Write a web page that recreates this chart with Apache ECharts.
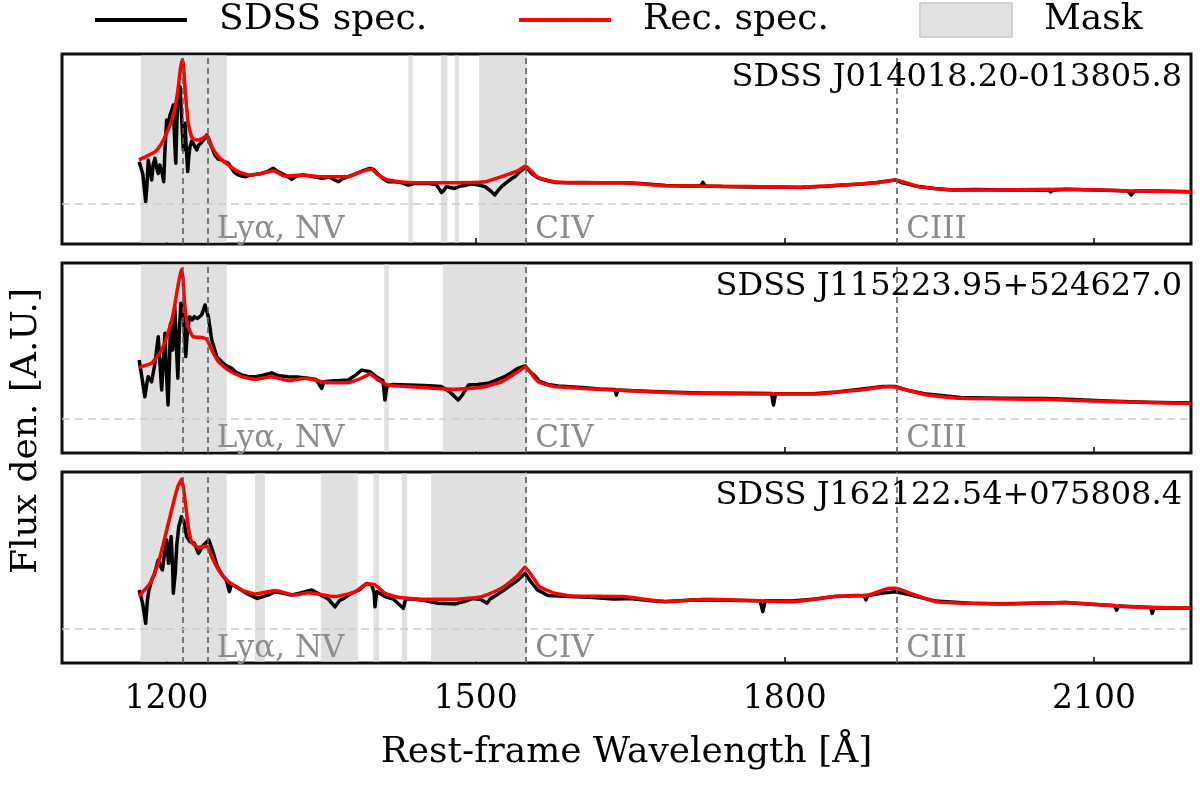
<!DOCTYPE html>
<html><head><meta charset="utf-8">
<style>html,body{margin:0;padding:0;background:#fff}#chart{width:1200px;height:786px}</style>
<script src="https://cdn.jsdelivr.net/npm/echarts@6.0.0/dist/echarts.min.js"></script>
</head><body><div id="chart"></div>
<script>
// ---------- data ----------
const xTicks = [1200, 1500, 1800, 2100];
const lineWave = [1216, 1240, 1549, 1909];
const lineLabelWave = [1240, 1549, 1909];
const lineLabels = ['Lyα, NV', 'CIV', 'CIII'];
const panelNames = ['SDSS J014018.20-013805.8', 'SDSS J115223.95+524627.0', 'SDSS J162122.54+075808.4'];
const yLimits = [[-1.333, 5.0], [-1.133, 5.2], [-1.133, 5.233]];

const p1MaskStart = [1175, 1434.8, 1466.2, 1479.8, 1503.4];
const p1MaskEnd   = [1258.4, 1439.0, 1472.6, 1483.7, 1549.7];
const p2MaskStart = [1175, 1411.2, 1468.2];
const p2MaskEnd   = [1258.4, 1415.7, 1549.7];
const p3MaskStart = [1175, 1285.9, 1349.7, 1400.8, 1428.3, 1456.8];
const p3MaskEnd   = [1258.4, 1295.6, 1385.6, 1406.3, 1433.5, 1549.7];

const p1SdssWave = [1173.5,1175,1177,1179.8,1181,1182.3,1184,1185.6,1187,1188.8,1190.5,1192,1193.5,1194.7,1196,1197.3,1198.5,1200.2,1201.8,1203.4,1205,1206.6,1207.8,1209,1210,1210.9,1212,1213.1,1214.5,1216.3,1217.2,1218,1219.3,1220.6,1221.7,1222.8,1224.5,1226,1227.7,1229.3,1231,1232.5,1234,1235.7,1237.5,1239,1240.5,1242.2,1244.5,1247,1250,1253.5,1256.5,1260,1263,1266,1269.7,1273,1276.1,1280,1285,1292,1298,1303.6,1307,1311.7,1316,1321.4,1326,1332.8,1340,1345,1350.6,1358,1366.7,1371,1376.4,1383,1390,1397.4,1401,1405,1410,1415.1,1420,1427,1434.5,1440,1447.4,1455,1462,1466.9,1469,1471.7,1475,1479.8,1485,1490,1496,1502,1508.9,1514,1518.6,1521,1525.1,1530,1535,1538,1543,1548,1551,1555,1560,1567,1576.8,1590,1603,1620,1643.8,1660,1684.5,1700,1718,1720.5,1723,1740,1766,1790,1815.5,1817,1819,1840,1856,1875,1888.9,1900,1907.6,1915,1929.7,1945,1962.4,1985,2011.3,2040,2056,2058,2060,2072.5,2100,2120,2133,2136,2139,2160,2194];
const p1SdssFlux = [1.41,1.35,1.0,0.08,0.6,1.47,1.1,0.8,1.3,1.52,1.2,1.02,1.3,1.36,1.0,0.74,1.8,2.8,2.6,2.97,3.1,3.3,2.2,1.36,2.6,3.47,3.7,3.91,3.0,1.8,2.4,2.69,1.8,1.08,1.6,1.91,2.1,2.02,1.9,1.8,1.95,1.97,2.05,2.13,2.2,2.3,2.25,2.02,1.85,1.63,1.5,1.47,1.4,1.36,1.2,1.05,0.97,0.93,0.91,0.95,0.98,1.02,1.08,1.19,1.1,1.02,0.95,0.82,0.93,0.97,0.92,0.9,0.86,0.9,0.74,0.85,0.91,1.0,1.1,1.19,1.15,1.0,0.85,0.74,0.75,0.72,0.63,0.68,0.69,0.68,0.64,0.38,0.45,0.58,0.55,0.52,0.6,0.62,0.67,0.64,0.58,0.45,0.3,0.42,0.58,0.72,0.85,0.91,1.08,1.22,1.15,1.0,0.88,0.8,0.72,0.71,0.72,0.71,0.71,0.68,0.62,0.6,0.6,0.72,0.6,0.58,0.57,0.57,0.55,0.5,0.56,0.59,0.63,0.67,0.72,0.77,0.8,0.7,0.58,0.52,0.47,0.48,0.47,0.47,0.46,0.4,0.46,0.49,0.47,0.45,0.43,0.3,0.43,0.43,0.41];
const p1RecWave = [1173.3,1180,1188.8,1194,1198.5,1203,1206.6,1209.5,1211.5,1213.5,1215.2,1216.3,1217.5,1218.6,1221.1,1225,1230.9,1237.4,1240,1243.9,1250.3,1260,1269.7,1279.4,1292.3,1303.6,1315,1331.2,1350.6,1376.4,1389.3,1399,1405.5,1415.1,1434.5,1479.8,1508.9,1525.1,1541.2,1548.4,1557.4,1562,1576.8,1603,1643.8,1684.5,1766,1815.5,1856,1888.9,1907.6,1929.7,1962.4,2011.3,2072.5,2133.6,2194];
const p1RecFlux = [1.47,1.58,1.74,1.95,2.24,2.6,2.97,3.45,3.91,4.5,4.82,4.69,4.1,3.58,2.69,2.19,2.13,2.24,2.27,1.91,1.58,1.3,1.08,0.97,1.02,1.11,0.93,0.97,0.91,0.91,1.08,1.16,0.97,0.8,0.72,0.71,0.74,0.91,1.11,1.27,0.97,0.86,0.74,0.71,0.71,0.61,0.58,0.56,0.63,0.71,0.8,0.58,0.47,0.47,0.49,0.44,0.41];

const p2SdssWave = [1173.5,1175,1177,1179,1181,1182.3,1185.6,1188.8,1192,1195.3,1197,1198.5,1200,1201.5,1203,1203.9,1206,1208,1209.5,1211,1212.5,1214,1216.5,1218.7,1220,1222.3,1225,1227,1230,1234.1,1237.4,1239,1240.6,1243.9,1248.8,1253.5,1257,1263.2,1268,1273,1279,1285.9,1293,1302,1308,1318,1327,1337.6,1345,1350.6,1352.5,1360,1368,1376.4,1383,1389.3,1397.4,1404,1410,1412,1414,1420,1434.5,1450,1466.9,1475,1483,1487,1493,1502,1512,1520,1528,1535,1541,1548,1552,1557,1562,1570,1580,1603,1620,1635,1636.5,1638,1660,1684.5,1720,1766,1787,1789,1791,1827.6,1850,1873,1895,1907.6,1920,1937.7,1970.6,2010,2052.3,2080,2113,2150,2194];
const p2SdssFlux = [1.97,1.63,1.2,0.74,1.2,1.41,1.24,1.86,2.74,0.97,2.0,2.86,1.5,0.47,2.0,3.19,2.3,3.74,2.5,1.36,3.0,3.86,3.41,2.08,2.8,3.41,3.3,3.41,3.35,3.47,3.8,3.6,3.41,2.63,2.08,1.91,1.8,1.69,1.55,1.47,1.42,1.41,1.45,1.54,1.45,1.41,1.4,1.36,1.32,1.02,1.24,1.27,1.28,1.3,1.45,1.63,1.58,1.4,1.28,0.63,1.1,1.15,1.13,1.12,1.08,0.9,0.63,0.8,1.13,1.15,1.19,1.3,1.41,1.55,1.69,1.77,1.6,1.45,1.25,1.15,1.1,1.05,1.0,0.98,0.8,0.97,0.93,0.9,0.87,0.86,0.85,0.47,0.84,0.84,0.9,0.99,1.08,1.08,0.95,0.83,0.72,0.69,0.68,0.65,0.6,0.56,0.53];
const p2RecWave = [1173.3,1185.6,1195.3,1203.4,1207,1209.9,1212,1214.5,1216,1217.3,1219,1221.1,1226,1234.1,1239,1243.9,1250.3,1260,1273,1285.9,1302,1318.2,1334.4,1357,1376.4,1389.3,1397.4,1405.5,1415.1,1434.5,1479.8,1505.7,1525.1,1541.2,1548.4,1557.4,1562,1576.8,1603,1684.5,1766,1827.6,1873,1901.5,1907.6,1937.7,1970.6,2052.3,2113,2194];
const p2RecFlux = [1.72,1.86,2.3,3.08,3.6,4.19,4.6,4.99,4.7,3.97,3.4,3.08,2.74,2.72,2.66,2.3,1.91,1.63,1.41,1.32,1.41,1.28,1.36,1.21,1.21,1.36,1.5,1.3,1.13,1.08,0.99,1.06,1.24,1.58,1.74,1.36,1.22,1.08,1.02,0.88,0.83,0.83,0.97,1.08,1.06,0.8,0.69,0.66,0.58,0.52];

const p3SdssWave = [1173.5,1175,1176.8,1179.8,1181.5,1183,1185.6,1188,1192,1194,1196,1198,1200.2,1202,1203.5,1204.5,1206,1206.6,1208.5,1210,1211.9,1214.5,1217,1219.5,1222.8,1227,1231,1236,1241,1244.5,1249.3,1254,1258,1261,1263,1268,1277.7,1288,1300,1305,1315,1321,1330,1341,1350,1357,1363.5,1368,1372,1380,1387,1394.2,1399,1401.5,1402.3,1404,1412,1420,1429.8,1432,1440,1450,1463.7,1479.8,1492,1497,1505,1511,1514,1525,1541,1548,1553,1560,1570,1590,1610,1634,1650,1670,1684.5,1710,1740,1776,1778.6,1781,1807,1830,1848,1870,1877,1878.7,1880.5,1895,1907.6,1920,1946.3,1980,2011.3,2040,2072.5,2100,2120,2121.8,2124,2140,2155,2156.4,2158.5,2175,2194];
const p3SdssFlux = [1.3,1.1,0.86,0.19,0.97,1.3,1.63,1.8,2.3,2.1,1.97,2.5,2.97,2.19,2.7,3.08,2.0,1.19,1.86,2.8,3.41,3.74,3.58,3.08,2.91,2.86,2.52,2.8,2.97,2.63,2.08,1.8,1.63,1.24,1.5,1.4,1.19,1.02,1.15,1.24,1.18,1.13,1.2,1.3,1.13,1.0,0.74,0.95,1.02,1.2,1.3,1.52,1.47,1.2,0.74,1.24,1.08,1.0,0.69,1.0,1.0,0.95,0.86,0.83,0.95,1.02,0.98,0.86,1.0,1.24,1.63,1.86,1.6,1.3,1.12,1.08,1.06,1.0,1.02,0.94,0.92,0.97,0.96,0.94,0.58,0.94,0.93,1.0,1.08,1.12,1.1,0.97,1.12,1.2,1.24,1.15,0.93,0.86,0.84,0.86,0.88,0.82,0.78,0.63,0.77,0.74,0.72,0.52,0.71,0.7,0.69];
const p3RecWave = [1173.3,1184,1192,1200.2,1206.6,1210.9,1214.7,1218,1221.1,1225,1230.9,1239,1243.9,1250.3,1260,1273,1285.9,1305.3,1324.7,1337.6,1363.5,1382.9,1394.2,1402.3,1412,1424.9,1447.6,1479.8,1505.7,1525.1,1541.2,1547.8,1557.4,1562,1576.8,1595,1643.8,1684.5,1725,1807,1848,1880.8,1901.5,1907.6,1921.8,1946.3,2011.3,2072.5,2133.6,2194];
const p3RecFlux = [1.1,1.52,2.19,3.3,4.19,4.74,4.99,4.3,3.41,2.86,2.72,2.77,2.41,1.97,1.58,1.3,1.17,1.28,1.13,1.21,1.08,1.24,1.5,1.47,1.19,1.06,0.99,0.99,1.08,1.36,1.8,2.06,1.63,1.41,1.19,1.1,1.08,0.91,0.99,0.91,1.08,1.13,1.36,1.36,1.19,0.91,0.83,0.88,0.74,0.69];

// ---------- build ----------
const FONT = '"DejaVu Serif"';
const zip = (a, b) => a.map((v, k) => [v, b[k]]);
const panels = [
  {sw: p1SdssWave, sf: p1SdssFlux, rw: p1RecWave, rf: p1RecFlux, ms: p1MaskStart, me: p1MaskEnd},
  {sw: p2SdssWave, sf: p2SdssFlux, rw: p2RecWave, rf: p2RecFlux, ms: p2MaskStart, me: p2MaskEnd},
  {sw: p3SdssWave, sf: p3SdssFlux, rw: p3RecWave, rf: p3RecFlux, ms: p3MaskStart, me: p3MaskEnd}
];
const gridTops = [54, 263, 472];
const gridHeights = [190, 190, 191];
const titleTops = [62, 271, 480];

const series = [];
panels.forEach((p, i) => {
  series.push({
    name: 'Mask', type: 'custom', xAxisIndex: i, yAxisIndex: i, silent: true, z: 1,
    itemStyle: {color: '#e0e0e0'},
    data: zip(p.ms, p.me), encode: {x: [0, 1]},
    renderItem: (params, api) => {
      const a = api.coord([api.value(0), 0]);
      const b = api.coord([api.value(1), 0]);
      const cs = params.coordSys;
      return {type: 'rect', shape: {x: a[0], y: cs.y + 1.5, width: b[0] - a[0], height: cs.height - 3}, style: {fill: '#e0e0e0'}};
    }
  });
  series.push({
    name: 'SDSS spec.', type: 'line', xAxisIndex: i, yAxisIndex: i, z: 3,
    data: zip(p.sw, p.sf), symbol: 'none', showSymbol: false,
    lineStyle: {color: '#000', width: 3.5, join: 'round'}, itemStyle: {color: '#000'},
    markLine: {
      silent: true, symbol: ['none', 'none'], animation: false, label: {show: false},
      data: lineWave.map(w => ({xAxis: w, lineStyle: {color: '#5e5e5e', type: [6, 4], width: 1.6}}))
        .concat([{yAxis: 0, lineStyle: {color: '#cccccc', type: [8, 5], width: 1.5}}])
    }
  });
  series.push({
    name: 'Rec. spec.', type: 'line', xAxisIndex: i, yAxisIndex: i, z: 4,
    data: zip(p.rw, p.rf), symbol: 'none', showSymbol: false, smooth: 0.15,
    lineStyle: {color: '#ff0000', width: 3.5}, itemStyle: {color: '#ff0000'}
  });
  series.push({
    name: 'lineLabels', type: 'custom', xAxisIndex: i, yAxisIndex: i, silent: true, z: 5,
    data: lineLabelWave.map(w => [w, 0]),
    renderItem: (params, api) => {
      const a = api.coord([api.value(0), 0]);
      const cs = params.coordSys;
      return {type: 'text', x: a[0] + 9, y: cs.y + cs.height + 1,
        style: {text: lineLabels[params.dataIndex], fill: '#8c8c8c', fontSize: 31, fontFamily: 'DejaVu Serif', align: 'left', verticalAlign: 'bottom'}};
    }
  });
});

const option = {
  animation: false,
  backgroundColor: '#fff',
  title: panelNames.map((t, i) => ({text: t, right: 18, top: titleTops[i], padding: 0,
    textStyle: {fontFamily: FONT, fontSize: 32, fontWeight: 'normal', color: '#000'}})),
  legend: {
    left: 93, top: 2, itemWidth: 92, itemHeight: 34, itemGap: 90, padding: 0, selectedMode: false,
    textStyle: {fontFamily: FONT, fontSize: 36, color: '#000', padding: [0, 0, 0, 27]},
    data: [
      {name: 'SDSS spec.', itemStyle: {opacity: 0}, lineStyle: {width: 4}},
      {name: 'Rec. spec.', itemStyle: {opacity: 0}, lineStyle: {width: 4}},
      {name: 'Mask', icon: 'rect', itemStyle: {color: '#e2e2e2', borderColor: '#d2d2d2', borderWidth: 2}}
    ]
  },
  grid: gridTops.map((t, i) => ({left: 62, right: 9, top: t, height: gridHeights[i], show: true,
    borderColor: '#111', borderWidth: 3, backgroundColor: 'rgba(0,0,0,0)', containLabel: false, outerBoundsMode: 'none'})),
  xAxis: [0, 1, 2].map(i => ({
    type: 'value', gridIndex: i, min: 1098.6, max: 2194.1,
    axisLine: {show: false, onZero: false}, splitLine: {show: false},
    axisTick: {show: true, inside: true, length: 6, lineStyle: {color: '#000', width: 1.5}, customValues: xTicks},
    axisLabel: {show: i === 2, customValues: xTicks, formatter: v => String(v), fontFamily: FONT, fontSize: 33, color: '#000', margin: 20},
    name: i === 2 ? 'Rest-frame Wavelength [Å]' : '', nameLocation: 'middle', nameGap: 72,
    nameTextStyle: {fontFamily: FONT, fontSize: 36, color: '#000'}
  })),
  yAxis: [0, 1, 2].map(i => ({
    type: 'value', gridIndex: i, min: yLimits[i][0], max: yLimits[i][1],
    axisLine: {show: false}, axisTick: {show: false}, axisLabel: {show: false}, splitLine: {show: false}
  })),
  graphic: [{
    type: 'text', x: 27, y: 431, rotation: Math.PI / 2,
    style: {text: 'Flux den. [A.U.]', fill: '#000', fontSize: 36, fontFamily: 'DejaVu Serif', align: 'center', verticalAlign: 'middle'}
  }],
  series: series
};

const chart = echarts.init(document.getElementById('chart'), null, {renderer: 'canvas'});
chart.setOption(option);
</script>
</body></html>
